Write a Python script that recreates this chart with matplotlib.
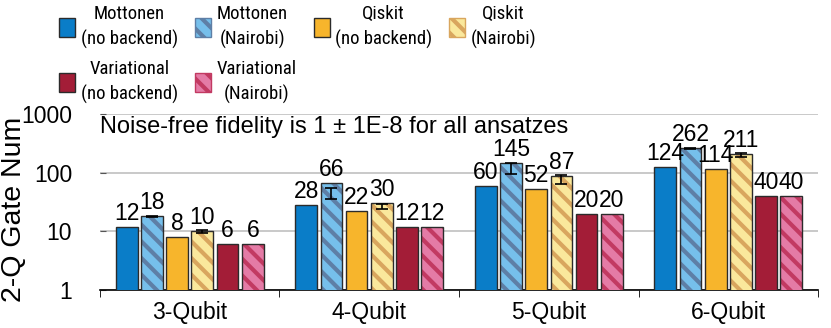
import matplotlib
matplotlib.use("Agg")
import matplotlib.pyplot as plt
import matplotlib.patches as mpatches
import numpy as np

plt.rcParams['font.family'] = ['Liberation Sans', 'DejaVu Sans']
plt.rcParams['hatch.linewidth'] = 3

categories = ["3-Qubit", "4-Qubit", "5-Qubit", "6-Qubit"]
series = ["Mottonen\n(no backend)", "Mottonen\n(Nairobi)",
          "Qiskit\n(no backend)", "Qiskit\n(Nairobi)",
          "Variational\n(no backend)", "Variational\n(Nairobi)"]

mottonen_nb = [12, 28, 60, 124]
mottonen_nairobi = [18, 66, 145, 262]
qiskit_nb = [8, 22, 52, 114]
qiskit_nairobi = [10, 30, 87, 211]
variational_nb = [6, 12, 20, 40]
variational_nairobi = [6, 12, 20, 40]

# error bar extents (low, high) for the Nairobi runs
mottonen_err_low = [17.5, 36, 96, 255]
mottonen_err_high = [18, 55, 147, 265]
qiskit_err_low = [9.5, 24, 64, 182]
qiskit_err_high = [10.5, 29, 90, 217]

values = [mottonen_nb, mottonen_nairobi, qiskit_nb, qiskit_nairobi,
          variational_nb, variational_nairobi]
face = ["#0A7DC8", "#76BFEB", "#F7B52C", "#FAE89C", "#A31D37", "#E47BA6"]
hatch_col = [None, "#5E7FA6", None, "#D9A65E", None, "#C23A62"]
HATCH = "\\\\"

fig = plt.figure(figsize=(8.31, 3.28), dpi=100)
ax = fig.add_axes([0.1203, 0.1159, 0.9844 - 0.1203, 0.6524 - 0.1159])

x = np.arange(len(categories))
pitch = 0.1405
width = 0.121
handles = []
for i, vals in enumerate(values):
    pos = x + (i - 2.5) * pitch
    if hatch_col[i] is None:
        ax.bar(pos, vals, width, color=face[i], edgecolor="#2b2b2b", linewidth=1, zorder=3)
    else:
        ax.bar(pos, vals, width, color=face[i], edgecolor=hatch_col[i], hatch=HATCH,
               linewidth=0, zorder=3)
        ax.bar(pos, vals, width, color="none", edgecolor="#2b2b2b", linewidth=1, zorder=4)
    for p, v in zip(pos, vals):
        ax.annotate(str(v), (p, v), xytext=(0, 1.5), textcoords="offset points",
                    ha="center", va="bottom", fontsize=16.5, zorder=6)
    handles.append(mpatches.Patch(facecolor=face[i], edgecolor=hatch_col[i] or "#2b2b2b",
                                  hatch=None if hatch_col[i] is None else HATCH,
                                  linewidth=1))

for i, lo, hi in [(1, mottonen_err_low, mottonen_err_high), (3, qiskit_err_low, qiskit_err_high)]:
    pos = x + (i - 2.5) * pitch
    lo = np.array(lo)
    hi = np.array(hi)
    mid = (lo + hi) / 2
    ax.errorbar(pos, mid, yerr=(hi - lo) / 2, fmt="none", ecolor="black",
                elinewidth=1.2, capsize=4, capthick=1.2, zorder=5)

ax.set_yscale("log")
ax.set_ylim(1, 1000)
ax.set_xlim(-0.5, 3.5)
ax.set_yticks([1, 10, 100, 1000])
ax.set_yticklabels(["1", "10", "100", "1000"])
ax.yaxis.set_minor_locator(matplotlib.ticker.NullLocator())
ax.tick_params(axis="y", labelsize=16.5, length=4, direction="in", color="#555555", pad=20)
ax.set_xticks(x)
ax.set_xticklabels(categories)
ax.set_xticks(np.arange(-0.5, 4, 1), minor=True)
ax.tick_params(axis="x", which="major", length=0, labelsize=16.5, pad=8)
ax.tick_params(axis="x", which="minor", length=5, direction="out", color="black")
ax.grid(axis="y", color="#c0c0c0", linewidth=1.2, zorder=0)
for s in ["left", "right", "top"]:
    ax.spines[s].set_visible(False)
ax.spines["bottom"].set_linewidth(1.2)

ax.set_ylabel("2-Q Gate Num", fontsize=20.5)
ax.yaxis.set_label_coords(-0.101, 0.46)

ax.text(0.0, 0.926, "Noise-free fidelity is 1 \u00b1 1E-8 for all ansatzes",
        transform=ax.transAxes, ha="left", va="center", fontsize=17)

order = [0, 4, 1, 5, 2, 3]
leg = fig.legend([handles[k] for k in order], [series[k] for k in order],
                 loc="upper left", bbox_to_anchor=(0.058, 1.02), ncol=4, frameon=False,
                 prop={"family": ["Roboto Condensed", "Liberation Sans"], "size": 13.5},
                 borderpad=0.1,
                 handlelength=0.85, handleheight=1.2, handletextpad=0.3,
                 columnspacing=0.9, labelspacing=0.55)
for t in leg.get_texts():
    t.set_multialignment("center")
    t.set_linespacing(1.5)

fig.savefig("out.png", dpi=100)
